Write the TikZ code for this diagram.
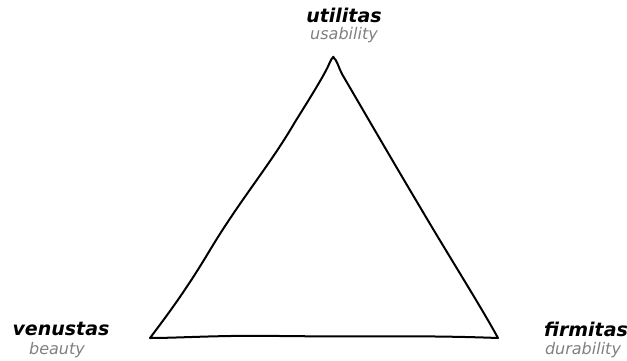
\documentclass[tikz,border=0pt]{standalone}
\usepackage{fontspec}
\setmainfont{DejaVu Sans}
\usepackage{xcolor}
\definecolor{vitgray}{HTML}{808080}

\begin{document}
\begin{tikzpicture}[x=1pt,y=-1pt]
  \tikzset{
    term/.style={font=\fontsize{19}{22}\selectfont\bfseries\itshape,inner sep=0pt},
    gloss/.style={font=\fontsize{16}{19}\selectfont\itshape,text=vitgray,inner sep=0pt}
  }
  \useasboundingbox (0,0) rectangle (627,360);
  \coordinate (top) at (333,57);
  \coordinate (left) at (150,338);
  \coordinate (right) at (498,338);
  % hand drawn triangle
  \draw[line width=2pt,line join=round,line cap=round]
    (left) .. controls (165,318) and (185,292) .. (210,250)
    .. controls (240,200) and (270,165) .. (295,122)
    .. controls (315,90) and (326,72) .. (330,62)
    .. controls (332,57) and (335,56) .. (top)
    .. controls (337,60) and (338,66) .. (342,74)
    .. controls (370,122) and (395,165) .. (420,207)
    .. controls (450,258) and (480,305) .. (right)
    .. controls (420,335) and (350,337) .. (280,336)
    .. controls (220,335) and (180,338) .. (left) -- cycle;
  \node[term] (util) at (344,15) {utilitas};
  \node[gloss] (usab) at (344,35) {usability};
  \node[term] (venus) at (61,329) {venustas};
  \node[gloss] (beau) at (57,350) {beauty};
  \node[term] (firm) at (586,329) {firmitas};
  \node[gloss] (dura) at (583,350) {durability};
\end{tikzpicture}
\end{document}
